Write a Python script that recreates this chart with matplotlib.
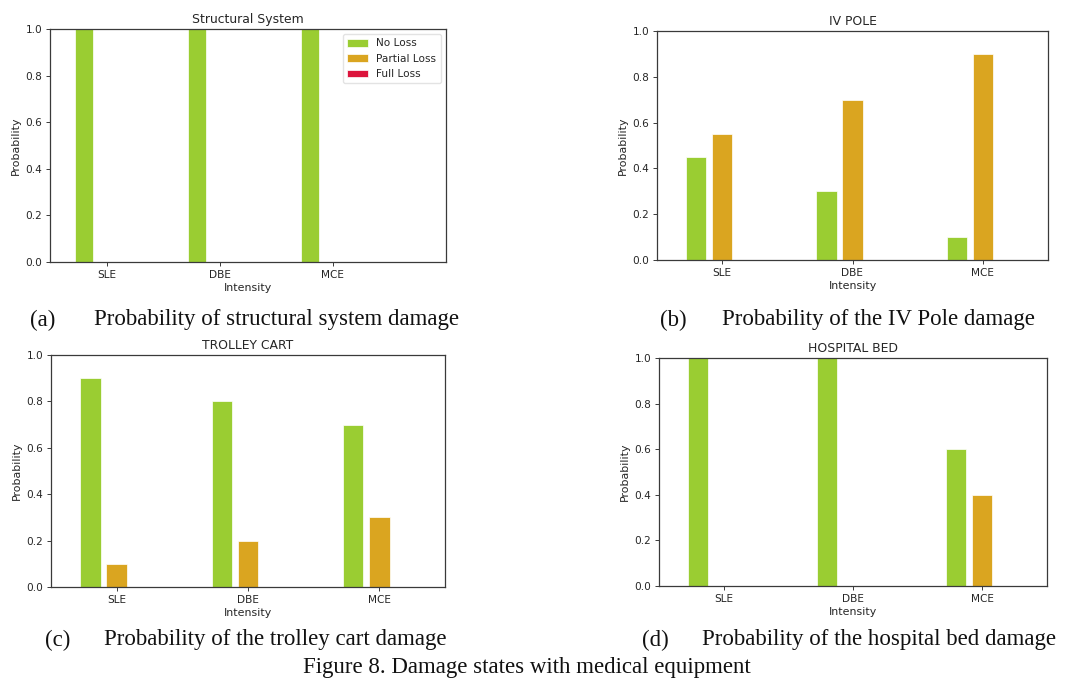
import matplotlib
matplotlib.use("Agg")
import matplotlib.pyplot as plt
import numpy as np

# Intensity levels shared by every panel
categories = ["SLE", "DBE", "MCE"]
states = ["No Loss", "Partial Loss", "Full Loss"]
state_colors = ["yellowgreen", "goldenrod", "crimson"]

# Probability of each damage state per intensity level
structural_no_loss = [1.0, 1.0, 1.0]
structural_partial = [0.0, 0.0, 0.0]
structural_full = [0.0, 0.0, 0.0]

iv_pole_no_loss = [0.45, 0.30, 0.10]
iv_pole_partial = [0.55, 0.70, 0.90]
iv_pole_full = [0.0, 0.0, 0.0]

trolley_no_loss = [0.90, 0.80, 0.70]
trolley_partial = [0.10, 0.20, 0.30]
trolley_full = [0.0, 0.0, 0.0]

bed_no_loss = [1.0, 1.0, 0.60]
bed_partial = [0.0, 0.0, 0.40]
bed_full = [0.0, 0.0, 0.0]

panel_titles = ["Structural System", "IV POLE", "TROLLEY CART", "HOSPITAL BED"]
panel_letters = ["(a)", "(b)", "(c)", "(d)"]
panel_captions = [
    "Probability of structural system damage",
    "Probability of the IV Pole damage",
    "Probability of the trolley cart damage",
    "Probability of the hospital bed damage",
]
figure_caption = "Figure 8. Damage states with medical equipment"

W, H = 1067, 682
fig = plt.figure(figsize=(W / 100, H / 100), dpi=100)
fig.patch.set_facecolor("white")


def px_axes(left, top, right, bottom):
    return fig.add_axes([left / W, 1 - bottom / H, (right - left) / W, (bottom - top) / H])


# axes boxes in pixels: left, top, right, bottom
boxes = [
    (50, 29, 446, 262),
    (657, 31, 1048, 260),
    (51, 355, 445, 587),
    (659, 358, 1047, 586),
]
xlims = [(-0.5, 3.0), (-0.5, 2.5), (-0.5, 2.5), (-0.5, 2.5)]

panel_data = [
    (structural_no_loss, structural_partial, structural_full),
    (iv_pole_no_loss, iv_pole_partial, iv_pole_full),
    (trolley_no_loss, trolley_partial, trolley_full),
    (bed_no_loss, bed_partial, bed_full),
]

x = np.arange(len(categories))
bar_w = 0.155
offsets = [-0.2, 0.0, 0.2]
text_color = "#262626"
spine_color = "#3a3a3a"

for k, (box, data) in enumerate(zip(boxes, panel_data)):
    ax = px_axes(*box)
    for series, off, col, lab in zip(data, offsets, state_colors, states):
        ax.bar(x + off, series, width=bar_w, color=col, label=lab,
               edgecolor="white", linewidth=0.5)
    ax.set_xticks(x)
    ax.set_xticklabels(categories)
    ax.set_ylim(0, 1.0)
    ax.set_xlim(*xlims[k])
    ax.set_yticks(np.arange(0, 1.01, 0.2))
    ax.tick_params(labelsize=7.6, colors=text_color, length=3, width=0.7,
                   color=spine_color, pad=2.5)
    ax.set_xlabel("Intensity", fontsize=7.9, color=text_color, labelpad=2.5)
    ax.set_ylabel("Probability", fontsize=7.9, color=text_color, labelpad=3)
    ax.set_title(panel_titles[k], fontsize=8.9, color=text_color, pad=4)
    for s in ax.spines.values():
        s.set_color(spine_color)
        s.set_linewidth(0.9)
    if k == 0:
        leg = ax.legend(loc="upper right", fontsize=7.6, frameon=True,
                        borderaxespad=0.5, handlelength=2.0)
        leg.get_frame().set_edgecolor("#dddddd")
        for t in leg.get_texts():
            t.set_color(text_color)

serif = ["Liberation Serif", "DejaVu Serif"]
cap_size = 16.5
# letter x, caption x, caption y (pixels)
caption_pos = [
    (30, 94, 320),
    (660, 722, 320),
    (45, 104, 640),
    (642, 702, 640),
]
for letter, cap, (lx, cx, cy) in zip(panel_letters, panel_captions, caption_pos):
    fig.text(lx / W, 1 - cy / H, letter, family=serif, fontsize=cap_size,
             ha="left", va="center", color="#111111")
    fig.text(cx / W, 1 - cy / H, cap, family=serif, fontsize=cap_size,
             ha="left", va="center", color="#111111")

fig.text(527 / W, 1 - 667 / H, figure_caption, family=serif, fontsize=cap_size,
         ha="center", va="center", color="#111111")

fig.savefig("out.png", dpi=100, facecolor="white")
